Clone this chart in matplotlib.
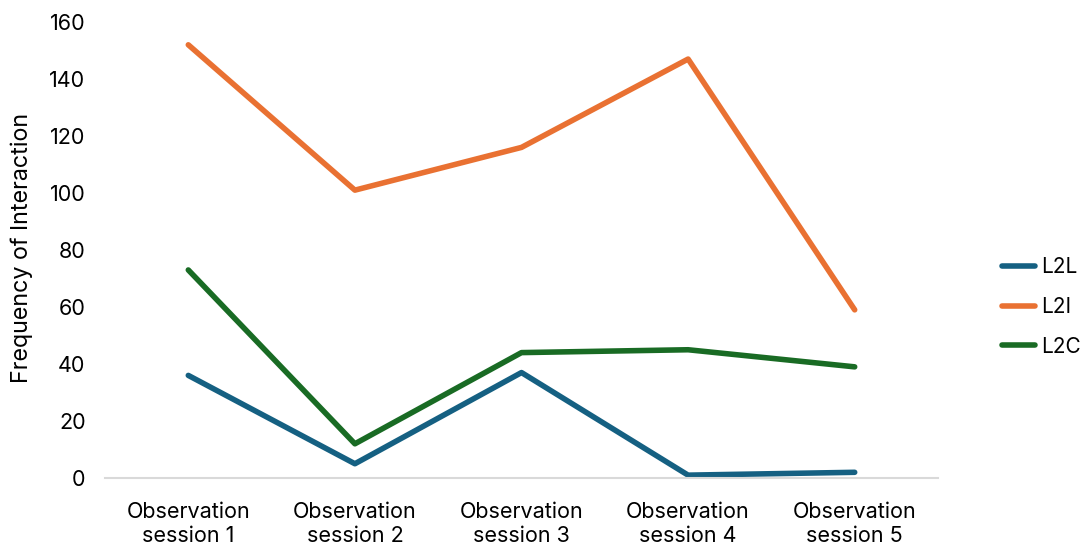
import numpy as np
import matplotlib.pyplot as plt

# session counts per interaction type
sessions = ['Observation\nsession 1', 'Observation\nsession 2', 'Observation\nsession 3',
            'Observation\nsession 4', 'Observation\nsession 5']
l2l = [36, 5, 37, 1, 2]
l2i = [152, 101, 116, 147, 59]
l2c = [73, 12, 44, 45, 39]

plt.rcParams['font.family'] = ['Inter', 'DejaVu Sans']

fig = plt.figure(figsize=(10.8, 5.48), dpi=100)
ax = fig.add_axes([105/1080, 70/548, 833/1080, 456/548])

x = np.arange(len(sessions))
ax.plot(x, l2l, color='#156082', lw=4, solid_capstyle='round', label='L2L')
ax.plot(x, l2i, color='#E97132', lw=4, solid_capstyle='round', label='L2I')
ax.plot(x, l2c, color='#196B24', lw=4, solid_capstyle='round', label='L2C')

ax.set_xlim(-0.5, len(sessions) - 0.5)
ax.set_ylim(0, 160)
ax.set_yticks(range(0, 161, 20))
ax.set_xticks(x)
ax.set_xticklabels(sessions, fontsize=15.5, color='#000000', linespacing=1.25)
ax.tick_params(axis='y', labelsize=15.5, length=0, pad=14)
ax.tick_params(axis='x', length=0, pad=17)
ax.set_ylabel('Frequency of Interaction', fontsize=16.8)
ax.yaxis.set_label_coords(-0.0864, 0.505)

for s in ['top', 'right', 'left']:
    ax.spines[s].set_visible(False)
ax.spines['bottom'].set_color('#D9D9D9')
ax.spines['bottom'].set_linewidth(1.5)

fig.legend(loc='center left', bbox_to_anchor=(994/1080, 1 - 307/548), frameon=False,
           borderaxespad=0, fontsize=15, handlelength=1.55, handletextpad=0.3,
           labelspacing=0.95)

fig.savefig('out.png', dpi=100)
